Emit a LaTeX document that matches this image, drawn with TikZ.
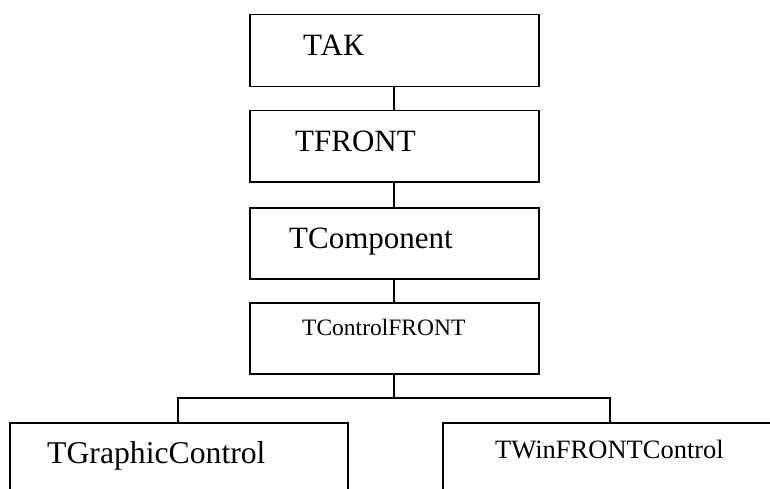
\documentclass[tikz,border=0pt]{standalone}
\usepackage{fontspec}
\setmainfont{Liberation Serif}
\begin{document}
\begin{tikzpicture}[x=1pt,y=-1pt,
  box/.style={draw=black,line width=1.5pt,rectangle,inner sep=0pt,anchor=north west},
  big/.style={anchor=base west,inner sep=0pt,font=\fontsize{31}{31}\selectfont},
  small/.style={anchor=base west,inner sep=0pt,font=\fontsize{23.5}{23.5}\selectfont},
  conn/.style={draw=black,line width=1.5pt}]
\useasboundingbox (0,0) rectangle (770,489);
\clip (0,0) rectangle (770,489);
\node[box,minimum width=289,minimum height=72] (tak) at (249,14) {};
\node[box,minimum width=289,minimum height=71] (tfront) at (249,110) {};
\node[box,minimum width=289,minimum height=71] (tcomp) at (249,207) {};
\node[box,minimum width=289,minimum height=71] (tctrl) at (249,302) {};
\node[box,minimum width=338,minimum height=100] (tgraph) at (9,422) {};
\node[box,minimum width=360,minimum height=100] (twin) at (442,422) {};
\node[big] (t1) at (303,56) {ТАК};
\node[big] (t2) at (295,152) {TFRONT};
\node[big] (t3) at (289,248) {TComponent};
\node[small] (t4) at (302,335) {TControlFRONT};
\node[big,font=\fontsize{31.7}{31.7}\selectfont] (t5) at (47,463) {TGraphicControl};
\node[small,font=\fontsize{26.5}{26.5}\selectfont] (t6) at (495,458) {TWinFRONTControl};
\coordinate (j) at (394,398);
\draw[conn] (tak.south -| 394,0) -- (tfront.north -| 394,0);
\draw[conn] (tfront.south -| 394,0) -- (tcomp.north -| 394,0);
\draw[conn] (tcomp.south -| 394,0) -- (tctrl.north -| 394,0);
\draw[conn] (tctrl.south -| j) -- (j);
\draw[conn] (tgraph.north -| 178,0) -- (178,398) -- (j) -- (610,398) -- (twin.north -| 610,0);
\end{tikzpicture}
\end{document}
